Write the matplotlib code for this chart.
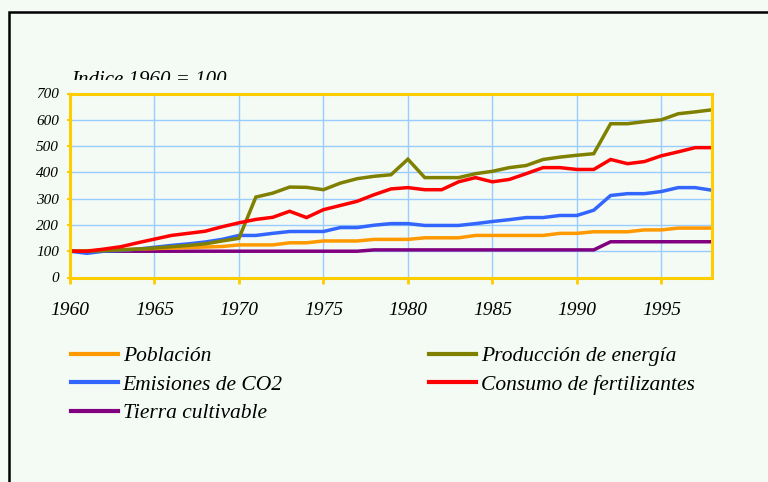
import matplotlib
matplotlib.use("Agg")
import matplotlib.pyplot as plt
from matplotlib.patches import Rectangle
from matplotlib.transforms import Bbox, TransformedBbox

years = list(range(1960, 1999))

poblacion = [100, 102, 104, 106, 108, 110, 112, 114, 116, 118,
             124, 124, 124, 132, 132, 139, 139, 139, 145, 145,
             145, 151, 151, 151, 160, 160, 160, 160, 160, 168,
             168, 174, 174, 174, 181, 181, 188, 188, 188]
energia = [100, 100, 102, 105, 108, 112, 117, 122, 128, 139,
           149, 306, 321, 344, 343, 334, 359, 376, 385, 391,
           450, 380, 380, 380, 395, 404, 418, 426, 449, 458,
           465, 471, 585, 585, 593, 600, 623, 630, 638]
co2 = [100, 92, 100, 103, 108, 115, 122, 128, 135, 145,
       160, 160, 168, 175, 175, 175, 190, 190, 199, 205,
       205, 198, 198, 198, 205, 213, 220, 228, 228, 236,
       236, 256, 312, 319, 319, 327, 342, 342, 332]
fertilizantes = [100, 100, 108, 117, 132, 146, 160, 168, 176, 193,
                 208, 221, 229, 252, 228, 258, 274, 290, 315, 337,
                 342, 334, 334, 364, 380, 364, 373, 395, 418, 418,
                 411, 411, 449, 433, 441, 463, 478, 494, 494]
tierra = [100] * 18 + [105] * 14 + [136] * 7

labels = ["Población", "Emisiones de CO2", "Tierra cultivable",
          "Producción de energía", "Consumo de fertilizantes"]
colors = ["#FF9900", "#3366FF", "#800080", "#808000", "#FF0000"]

bg = "#F4FBF5"
gold = "#FFCC00"
serif = ["Liberation Serif", "DejaVu Serif"]

W, H = 768, 482
fig = plt.figure(figsize=(W / 100, H / 100), dpi=100, facecolor=bg)
ax = fig.add_axes([70 / W, 1 - 277.5 / H, (712 - 70) / W, (277.5 - 93.5) / H])
ax.set_facecolor(bg)

# outer black frame (runs off the right and bottom edge)
fig.patches.append(Rectangle((9 / W, -0.05), 1.2, 1 - 12 / H + 0.05,
                             transform=fig.transFigure, fill=False,
                             edgecolor="black", linewidth=1.8))

handles = {}
for name, vals, col in [(labels[2], tierra, colors[2]),
                        (labels[0], poblacion, colors[0]),
                        (labels[1], co2, colors[1]),
                        (labels[3], energia, colors[3]),
                        (labels[4], fertilizantes, colors[4])]:
    (ln,) = ax.plot(years, vals, color=col, lw=2.5, solid_joinstyle="miter", zorder=3)
    handles[name] = ln

ax.set_xlim(1960, 1998)
ax.set_ylim(0, 700)
ax.set_xticks(range(1960, 1996, 5))
ax.set_yticks(range(0, 701, 100))
ax.grid(True, color="#99CCFF", lw=1.0, zorder=1)
ax.set_axisbelow(True)
for sp in ax.spines.values():
    sp.set_color(gold)
    sp.set_linewidth(2.2)
    sp.set_zorder(4)

ax.tick_params(axis="x", colors=gold, length=4.5, width=2, pad=13, labelcolor="black")
ax.tick_params(axis="y", colors=gold, length=2, width=1.5, pad=6, labelcolor="black")
for t in ax.get_xticklabels():
    t.set_fontfamily(serif)
    t.set_fontstyle("italic")
    t.set_fontsize(14)
for t in ax.get_yticklabels():
    t.set_fontfamily(serif)
    t.set_fontstyle("italic")
    t.set_fontsize(11)

# subtitle, cut off at the bottom as in the original
txt = fig.text(71 / W, 1 - 85 / H, "Indice 1960 = 100", family=serif,
               style="italic", fontsize=15, ha="left", va="baseline")
txt.set_clip_box(TransformedBbox(Bbox([[0, 1 - 79.5 / H], [1, 1]]), fig.transFigure))
txt.set_clip_on(True)

leg = fig.legend([handles[l] for l in labels], labels, ncol=2, frameon=False,
                 loc="upper left", bbox_to_anchor=(71 / W, 1 - 346 / H),
                 borderaxespad=0, borderpad=0,
                 prop={"family": serif, "style": "italic", "size": 15.5},
                 handlelength=2.2, handletextpad=0.2, labelspacing=0.4,
                 columnspacing=6.8)
for lh in leg.get_lines():
    lh.set_linewidth(3)

fig.savefig("out.png", dpi=100, facecolor=bg)
